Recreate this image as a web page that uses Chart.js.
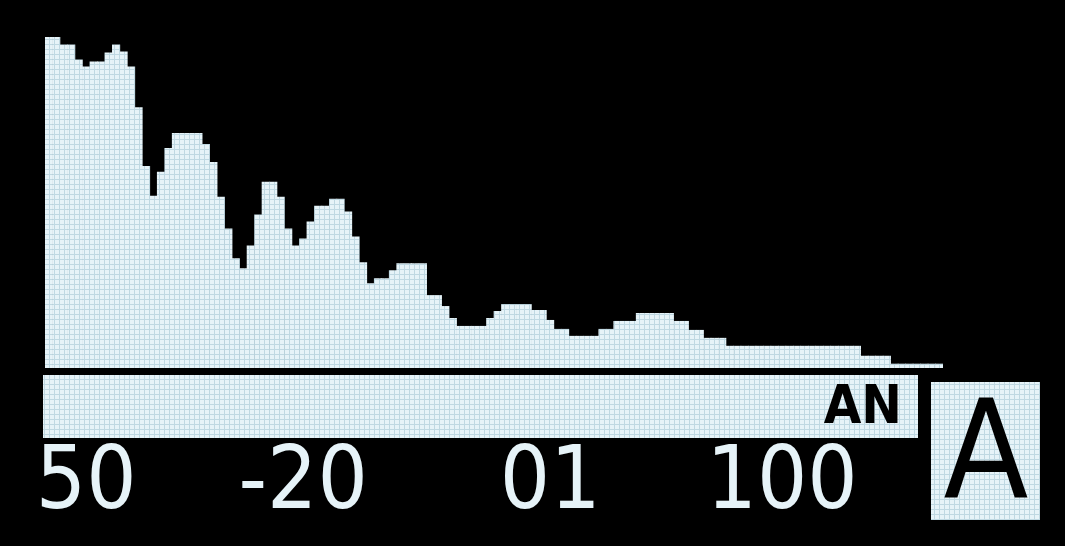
<!DOCTYPE html>
<html>
<head>
<meta charset="utf-8">
<script src="https://cdn.jsdelivr.net/npm/chart.js@4/dist/chart.umd.min.js"></script>
<style>
    html, body { margin: 0; padding: 0; background: #000; }
    #wrap { width: 1065px; height: 546px; position: relative; }
</style>
</head>
<body>
<div id="wrap"><canvas id="histo"></canvas></div>
<script>
// histogram levels, one per column bin (left to right)
var binLevels = [
    333, 333, 325, 325, 310, 303, 308, 308, 317, 325,
    318, 303, 262, 203, 173, 197, 221, 236, 236, 236,
    236, 225, 207, 172, 140, 110, 100, 123, 154, 187,
    187, 172, 140, 123, 130, 147, 163, 163, 170, 170,
    157, 132, 106, 85, 90, 90, 98, 105, 105, 105,
    105, 73, 73, 62, 50, 42, 42, 42, 42, 50,
    57, 64, 64, 64, 64, 58, 58, 48, 39, 39,
    32, 32, 32, 32, 39, 39, 47, 47, 47, 55,
    55, 55, 55, 55, 47, 47, 38, 38, 30, 30,
    30, 22, 22, 22, 22, 22, 22, 22, 22, 22,
    22, 22, 22, 22, 22, 22, 22, 22, 22, 12,
    12, 12, 12, 4, 4, 4, 4, 4, 4, 4
];
var levelMax = 333;

// bins where the scale labels sit
var tickBins = [5, 34, 67, 98];
var tickLabels = ['50', '-20', '01', '100'];

var modeTag = 'AN';
var modeLetter = 'A';

var lit = '#e6f3f8';
var labelFont = '"DejaVu Sans Condensed", "Liberation Sans Narrow", sans-serif';

// little pixel grid, like the oled dots
function dotPattern() {
    var c = document.createElement('canvas');
    c.width = 5;
    c.height = 5;
    var g = c.getContext('2d');
    g.fillStyle = '#bfd8e2';
    g.fillRect(0, 0, 5, 5);
    g.fillStyle = lit;
    g.fillRect(0, 0, 4, 4);
    return g.createPattern(c, 'repeat');
}

var dots = dotPattern();

var binNames = [];
for (var i = 0; i < binLevels.length; i++) {
    binNames.push(i);
}

var panel = {
    id: 'panel',
    beforeDraw: function (chart) {
        var ctx = chart.ctx;
        ctx.save();
        ctx.fillStyle = '#000';
        ctx.fillRect(0, 0, chart.width, chart.height);
        ctx.restore();
    },
    afterDraw: function (chart) {
        var ctx = chart.ctx;
        var area = chart.chartArea;
        ctx.save();
        // status strip under the histogram
        ctx.fillStyle = dots;
        ctx.fillRect(area.left - 2, area.bottom + 7, 875, 63);
        ctx.fillStyle = '#000';
        ctx.font = 'bold 54px ' + labelFont;
        ctx.textAlign = 'right';
        ctx.textBaseline = 'middle';
        ctx.fillText(modeTag, 902, area.bottom + 41);
        // mode box
        ctx.fillStyle = dots;
        ctx.fillRect(931, 382, 109, 138);
        ctx.fillStyle = '#000';
        ctx.font = '138px ' + labelFont;
        ctx.textAlign = 'center';
        ctx.fillText(modeLetter, 986, 462);
        ctx.restore();
    }
};

var ctx = document.getElementById('histo');
var chart = new Chart(ctx, {
    type: 'bar',
    data: {
        labels: binNames,
        datasets: [{
            data: binLevels,
            backgroundColor: dots,
            borderWidth: 0,
            barPercentage: 1,
            categoryPercentage: 1
        }]
    },
    options: {
        responsive: true,
        maintainAspectRatio: false,
        animation: false,
        events: [],
        layout: {
            padding: { left: 45, right: 122, top: 37, bottom: 0 }
        },
        plugins: {
            legend: { display: false },
            tooltip: { enabled: false }
        },
        scales: {
            x: {
                grid: { display: false, drawTicks: false },
                border: { display: false },
                afterFit: function (scale) {
                    scale.height = 178;
                    scale.paddingLeft = 0;
                    scale.paddingRight = 0;
                },
                ticks: {
                    autoSkip: false,
                    maxRotation: 0,
                    padding: 64,
                    color: lit,
                    font: { family: labelFont, size: 88 },
                    callback: function (value, index) {
                        var k = tickBins.indexOf(index);
                        return k === -1 ? '' : tickLabels[k];
                    }
                }
            },
            y: {
                display: false,
                min: 0,
                max: levelMax
            }
        }
    },
    plugins: [panel]
});
</script>
</body>
</html>
